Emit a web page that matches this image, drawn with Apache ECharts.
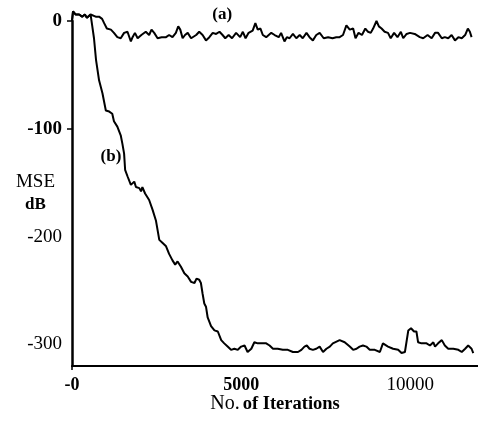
<!DOCTYPE html>
<html>
<head>
<meta charset="utf-8">
<script src="https://cdn.jsdelivr.net/npm/echarts@6/dist/echarts.min.js"></script>
<style>html,body{margin:0;padding:0;background:#fff;}#c{width:478px;height:424px;}</style>
</head>
<body>
<div id="c"></div>
<script>
// Curve (a)
const aIter = [0,30,110,210,300,380,440,550,700,800,890,950,1030,1150,1240,1340,1440,1540,1640,1740,1790,1860,1940,2050,2180,2280,2350,2430,2530,2650,2780,2870,2970,3070,3140,3200,3270,3340,3420,3520,3670,3760,3860,3960,4060,4160,4260,4360,4450,4530,4630,4730,4850,4970,5050,5130,5220,5340,5420,5490,5570,5640,5740,5890,5990,6110,6180,6280,6350,6430,6530,6630,6730,6820,6930,7020,7120,7220,7320,7440,7570,7700,7810,7910,8010,8110,8210,8310,8380,8470,8570,8670,8750,8830,8900,9000,9070,9150,9240,9340,9420,9520,9620,9720,9790,9890,9990,10130,10280,10380,10510,10630,10730,10820,10930,11020,11120,11220,11320,11420,11520,11620,11700,11760,11810];
const aMSE = [0,9,6,6,4,6,3,6,4,4,2,-2,-7,-8,-11,-15,-16,-11,-10,-19,-15,-11,-16,-13,-10,-13,-8,-11,-16,-15,-15,-13,-15,-11,-5,-8,-16,-13,-11,-16,-13,-10,-13,-18,-15,-11,-12,-10,-13,-16,-13,-16,-11,-15,-10,-16,-11,-9,-2,-8,-7,-13,-15,-11,-13,-15,-11,-19,-15,-16,-12,-16,-13,-16,-11,-15,-18,-13,-11,-16,-15,-16,-15,-15,-13,-4,-8,-7,-16,-11,-13,-7,-10,-11,-7,0,-5,-7,-10,-11,-16,-11,-15,-10,-16,-12,-11,-12,-15,-16,-13,-16,-11,-11,-16,-15,-16,-13,-18,-15,-16,-13,-7,-10,-15];
// Curve (b)
const bIter = [0,30,110,210,300,380,440,550,600,650,710,800,900,1000,1100,1190,1240,1340,1440,1490,1540,1570,1640,1740,1840,1890,1990,2040,2080,2160,2280,2380,2480,2580,2680,2780,2870,2970,3050,3120,3220,3320,3420,3520,3620,3680,3760,3810,3860,3910,3960,4010,4110,4210,4310,4410,4500,4600,4700,4800,4900,5000,5100,5190,5300,5390,5490,5590,5740,5840,5940,6080,6230,6380,6530,6680,6780,6870,6940,7020,7120,7220,7320,7420,7520,7620,7710,7760,7910,8060,8210,8310,8410,8500,8600,8700,8800,8950,9100,9190,9240,9340,9490,9640,9740,9840,9940,10020,10110,10180,10230,10330,10480,10580,10680,10730,10820,10930,11020,11120,11270,11420,11520,11620,11710,11810,11860];
const bMSE = [0,9,6,6,4,6,3,6,-5,-16,-36,-55,-67,-83,-84,-86,-93,-98,-106,-114,-123,-138,-144,-152,-149,-154,-155,-158,-154,-160,-166,-175,-185,-203,-206,-209,-216,-222,-226,-223,-228,-234,-237,-242,-243,-239,-240,-243,-253,-262,-265,-275,-283,-287,-288,-296,-299,-302,-305,-304,-305,-302,-301,-307,-304,-298,-299,-299,-299,-301,-304,-304,-305,-305,-307,-307,-305,-302,-301,-304,-305,-304,-302,-307,-304,-302,-299,-298,-296,-298,-302,-305,-304,-302,-301,-302,-305,-305,-307,-299,-298,-302,-304,-305,-308,-307,-287,-285,-288,-288,-298,-299,-299,-301,-298,-302,-299,-296,-301,-304,-304,-305,-307,-304,-301,-304,-308];
const xTickLabels = [0, 5000, 10000];
const yTickLabels = [0, -100, -200, -300];
const yTicks = [0, -100];

const zip = (xs, ys) => xs.map((x, i) => [x, ys[i]]);
const FONT = '"Liberation Serif", "Times New Roman", serif';

const chart = echarts.init(document.getElementById('c'), null, {renderer: 'canvas'});
chart.setOption({
  animation: false,
  backgroundColor: '#fff',
  grid: {left: 72, right: 0, top: 21, bottom: 58, containLabel: false, outerBoundsMode: 'none'},
  xAxis: {
    type: 'value', min: 0, max: 12000,
    name: '{n|No.} {b|of Iterations}',
    nameLocation: 'middle', nameGap: 28, nameMoveOverlap: false,
    nameTextStyle: {
      fontFamily: FONT, color: '#000',
      rich: {
        n: {fontFamily: FONT, fontSize: 20, color: '#000'},
        b: {fontFamily: FONT, fontSize: 18.5, fontWeight: 'bold', color: '#000'}
      }
    },
    axisLine: {show: true, onZero: false, lineStyle: {color: '#000', width: 2}},
    axisTick: {show: true, customValues: [0], length: 4, lineStyle: {color: '#000', width: 1.5}},
    splitLine: {show: false},
    axisLabel: {
      customValues: xTickLabels, margin: 10, fontFamily: FONT, color: '#000',
      formatter: v => v === 0 ? '{b|-0}' : (v === 5000 ? '{b|5000}' : '{n|' + v + '}'),
      rich: {
        b: {fontFamily: FONT, fontSize: 18, fontWeight: 'bold', color: '#000'},
        n: {fontFamily: FONT, fontSize: 19, color: '#000', padding: [0, 0, 6, 0]}
      }
    }
  },
  yAxis: {
    type: 'value', min: -320, max: 0,
    name: '{m|MSE}\n{d|dB}',
    nameLocation: 'middle', nameGap: 17, nameRotate: 0, nameMoveOverlap: false,
    nameTextStyle: {
      align: 'right', verticalAlign: 'middle', fontFamily: FONT, color: '#000',
      rich: {
        m: {fontFamily: FONT, fontSize: 19, color: '#000', lineHeight: 22, align: 'center'},
        d: {fontFamily: FONT, fontSize: 17, fontWeight: 'bold', color: '#000', lineHeight: 22, align: 'center'}
      }
    },
    axisLine: {show: true, onZero: false, lineStyle: {color: '#000', width: 2.5}},
    axisTick: {show: true, customValues: yTicks, length: 5, lineStyle: {color: '#000', width: 1.5}},
    splitLine: {show: false},
    axisLabel: {
      customValues: yTickLabels, margin: 10, fontFamily: FONT, color: '#000',
      formatter: v => (v === 0 || v === -100) ? '{b|' + v + '}' : '{n|' + v + '}',
      rich: {
        b: {fontFamily: FONT, fontSize: 19, fontWeight: 'bold', color: '#000'},
        n: {fontFamily: FONT, fontSize: 19, color: '#000'}
      }
    }
  },
  series: [
    {
      name: '(a)', type: 'line', data: zip(aIter, aMSE), showSymbol: false, symbol: 'none',
      clip: false, lineStyle: {color: '#000', width: 2}, z: 3,
      markPoint: {
        symbol: 'circle', symbolSize: 0,
        label: {show: true, formatter: '(a)', fontFamily: FONT, fontSize: 17, fontWeight: 'bold', color: '#000', position: 'inside', offset: [0, -6]},
        data: [{coord: [4440, 0]}]
      }
    },
    {
      name: '(b)', type: 'line', data: zip(bIter, bMSE), showSymbol: false, symbol: 'none',
      clip: false, lineStyle: {color: '#000', width: 2}, z: 3,
      markPoint: {
        symbol: 'circle', symbolSize: 0,
        label: {show: true, formatter: '(b)', fontFamily: FONT, fontSize: 17, fontWeight: 'bold', color: '#000', position: 'inside'},
        data: [{coord: [1150, -126]}]
      }
    }
  ]
});
</script>
</body>
</html>
